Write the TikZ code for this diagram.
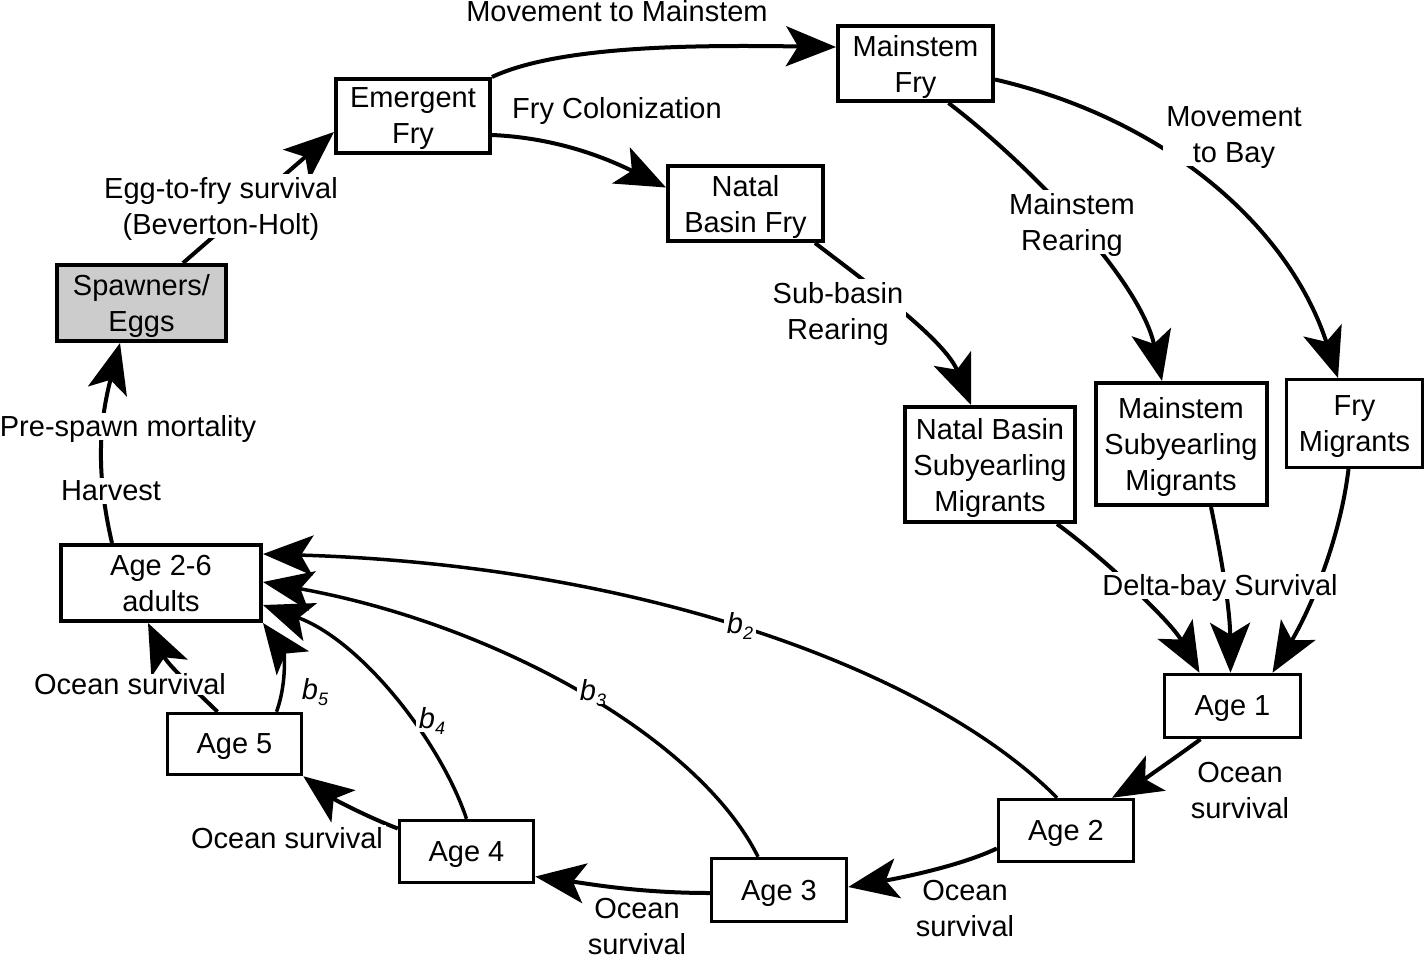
\documentclass[tikz,border=0pt]{standalone}
\usepackage{fontspec}
\setmainfont{Liberation Sans}
\usetikzlibrary{arrows.meta,calc}
\newcommand{\bsub}[1]{\textit{b}\raisebox{-6pt}{\fontsize{18}{18}\selectfont\itshape #1}}
\begin{document}
\begin{tikzpicture}[x=1pt,y=-1pt,
  every node/.style={font=\fontsize{29}{36}\selectfont, text depth=0pt},
  box/.style={draw, line width=4pt, fill=white, align=center, inner sep=0pt},
  agebox/.style={box, line width=3.5pt},
  lbl/.style={fill=white, inner sep=3pt, align=center},
  arr/.style={line width=4pt, -{Stealth[length=50pt,width=40pt,inset=12pt]}},
  bline/.style={line width=3.5pt, -{Stealth[length=50pt,width=40pt,inset=12pt]}}]
\useasboundingbox (0,0) rectangle (1425,959);
% boxes
\node[box, minimum width=154pt, minimum height=74pt] (emerg) at (413,116) {Emergent\\Fry};
\node[box, minimum width=155pt, minimum height=75pt] (mfry) at (915.5,63.5) {Mainstem\\Fry};
\node[box, minimum width=155pt, minimum height=75pt] (nfry) at (745.5,203.5) {Natal\\Basin Fry};
\node[box, fill=gray!40, minimum width=169pt, minimum height=76pt] (spawn) at (141.5,303) {Spawners/\\Eggs};
\node[box, minimum width=170pt, minimum height=115pt] (nsub) at (990,464.5) {Natal Basin\\Subyearling\\Migrants};
\node[box, minimum width=171pt, minimum height=122pt] (msub) at (1181,444) {Mainstem\\Subyearling\\Migrants};
\node[box, line width=3pt, minimum width=136pt, minimum height=88pt] (frym) at (1354.5,423.5) {Fry\\Migrants};
\node[box, minimum width=200pt, minimum height=76pt] (adult) at (161,583) {Age 2-6\\adults};
\node[agebox, minimum width=136pt, minimum height=63pt] (a1) at (1232.5,706) {Age 1};
\node[agebox, minimum width=135pt, minimum height=62pt] (a2) at (1066,830.5) {Age 2};
\node[agebox, minimum width=135pt, minimum height=63pt] (a3) at (779,890) {Age 3};
\node[agebox, minimum width=134pt, minimum height=62pt] (a4) at (466.5,851.5) {Age 4};
\node[agebox, minimum width=134pt, minimum height=61pt] (a5) at (234.5,744) {Age 5};
% connectors
\draw[arr] ($(spawn.north)+(41.5,0)$) -- ($(emerg.west)+(0,16)$);
\draw[arr] (emerg.north east) .. controls (560,45) and (700,45) .. ($(mfry.west)+(0,-16.5)$);
\draw[arr] ($(emerg.east)+(0,19)$) .. controls (560,138) and (610,160) .. ($(nfry.west)+(0,-16)$);
\draw[arr] ($(mfry.east)+(0,16)$) .. controls (1170,120) and (1290,230) .. ($(frym.north)+(-16.5,0)$);
\draw[arr] ($(mfry.south)+(33,0)$) .. controls (1030,165) and (1140,280) .. ($(msub.north)+(-19,0)$);
\draw[arr] ($(nfry.south east)+(-10,0)$) .. controls (870,285) and (945,340) .. ($(nsub.north)+(-19,0)$);
\draw[arr] ($(nsub.south east)+(-20,0)$) .. controls (1100,555) and (1170,620) .. ($(a1.north)+(-33,0)$);
\draw[arr] ($(msub.south)+(30,0)$) .. controls (1222,560) and (1230,610) .. ($(a1.north)+(-2,0)$);
\draw[arr] ($(frym.south)+(-6,0)$) .. controls (1340,540) and (1310,610) .. ($(a1.north)+(40,0)$);
\draw[arr] ($(a1.south)+(-32,0)$) .. controls (1175,758) and (1140,782) .. ($(a2.north)+(46,0)$);
\draw[arr] ($(a2.west)+(0,18)$) .. controls (960,866) and (900,878) .. ($(a3.east)+(0,-3)$);
\draw[arr] ($(a3.west)+(0,3)$) .. controls (640,893) and (590,884) .. ($(a4.east)+(0,25)$);
\draw[arr] ($(a4.west)+(0,-23)$) .. controls (370,818) and (335,800) .. (a5.south east);
\draw[arr] ($(a5.north)+(-17,0)$) .. controls (195,690) and (168,665) .. ($(adult.south)+(-13,0)$);
\draw[bline] ($(a5.north)+(42,0)$) .. controls (288,680) and (283,650) .. (adult.south east);
\draw[bline] (a4.north) .. controls (440,740) and (360,640) .. ($(adult.east)+(0,22)$);
\draw[bline] ($(a3.north)+(-21,0)$) .. controls (700,740) and (500,625) .. ($(adult.east)+(0,-1)$);
\draw[bline] ($(a2.north)+(-9,0)$) .. controls (930,670) and (640,565) .. ($(adult.east)+(0,-29)$);
\draw[arr] ($(adult.north)+(-49,0)$) .. controls (95,470) and (100,420) .. ($(spawn.south)+(-21.5,0)$);
% labels
\node[lbl] (lmm) at (617,11) {Movement to Mainstem};
\node[lbl] (lfc) at (617,108) {Fry Colonization};
\node[lbl] (lef) at (221,206) {Egg-to-fry survival\\(Beverton-Holt)};
\node[lbl] (lmb) at (1234,135) {Movement\\to Bay};
\node[lbl] (lmr) at (1072,222) {Mainstem\\Rearing};
\node[lbl] (lsr) at (838,311) {Sub-basin\\Rearing};
\node[lbl] (lps) at (128,426) {Pre-spawn mortality};
\node[lbl] (lhv) at (111,491) {Harvest};
\node[lbl] (ldb) at (1220,585) {Delta-bay Survival};
\node[lbl, inner ysep=0pt] (los5) at (130,684) {Ocean survival};
\node[lbl] (lb5) at (315,689) {\bsub{5}};
\node[lbl] (lb4) at (432,718) {\bsub{4}};
\node[lbl] (lb3) at (593,690) {\bsub{3}};
\node[lbl] (lb2) at (740,623) {\bsub{2}};
\node[lbl] (los1) at (1240,790) {Ocean\\survival};
\node[lbl] (los2) at (965,908) {Ocean\\survival};
\node[lbl, inner sep=0.5pt] (los3) at (637,926) {Ocean\\survival};
\node[lbl] (los4) at (287,838) {Ocean survival};
\end{tikzpicture}
\end{document}
